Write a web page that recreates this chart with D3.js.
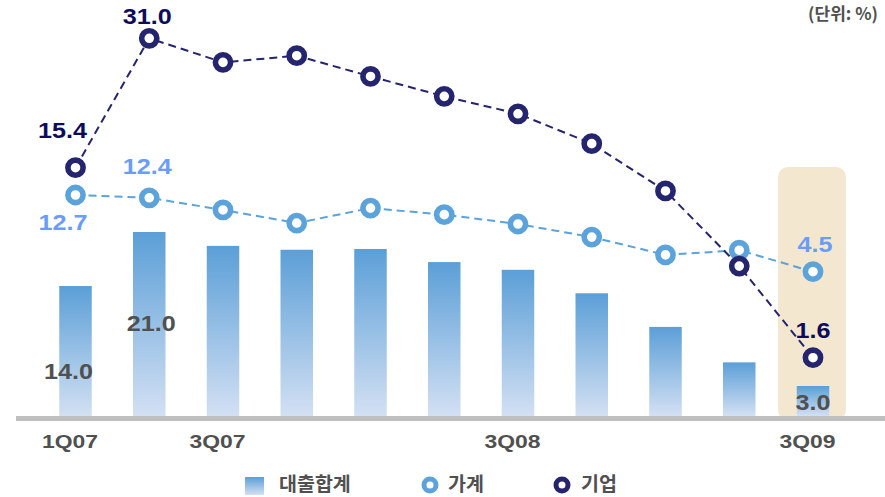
<!DOCTYPE html>
<html>
<head>
<meta charset="utf-8">
<script src="https://cdn.jsdelivr.net/npm/d3@7"></script>
<style>
  body { margin: 0; background: #fff; }
  svg { display: block; }
</style>
</head>
<body>
<div id="chart"></div>
<script>
// quarters on the x axis
var quarters = ['1Q07','2Q07','3Q07','4Q07','1Q08','2Q08','3Q08','4Q08','1Q09','2Q09','3Q09'];
var tickQuarters = ['1Q07','3Q07','3Q08','3Q09'];

// 대출합계 (bars), 가계 and 기업 (lines), %
var totalLoans = [14.0, 21.0, 19.2, 18.7, 18.8, 17.1, 16.1, 13.2, 9.5, 5.6, 3.0];
var household  = [12.7, 12.4, 11.1, 9.7, 11.3, 10.6, 9.6, 8.2, 6.3, 6.8, 4.5];
var corporate  = [15.4, 31.0, 28.1, 28.9, 26.4, 24.0, 21.9, 18.3, 13.1, 5.1, 1.6];

var unitText = '(단위: %)';
var legendNames = ['대출합계', '가계', '기업'];

var W = 885, H = 497;
var base = 416;

var C = {
    barTop: '#5b9fd7', barBottom: '#d3e0f3',
    house: '#5ba3da', houseLabel: '#6b9cf7',
    corp: '#25246e', corpLabel: '#0d0b5a',
    text: '#505050', axis: '#bfbfbf', hl: '#f3e8cf'
};

var svg = d3.select('#chart').append('svg')
    .attr('width', W)
    .attr('height', H);

var defs = svg.append('defs');
var grad = defs.append('linearGradient')
    .attr('id', 'barGrad')
    .attr('x1', 0).attr('y1', 0).attr('x2', 0).attr('y2', 1);
grad.append('stop').attr('offset', '0%').attr('stop-color', C.barTop);
grad.append('stop').attr('offset', '100%').attr('stop-color', C.barBottom);

var x = d3.scalePoint()
    .domain(quarters)
    .range([75.5, 813]);

// the original artwork is not drawn to one linear scale, so the scales are piecewise
var yBar = d3.scaleLinear()
    .domain([0, 3, 14, 21])
    .range([base, 386, 286, 232]);

var yLine = d3.scaleLinear()
    .domain([1.6, 4.5, 12.7, 15.4, 31])
    .range([357.7, 271.7, 195, 167.7, 38.3]);

var barW = 32.5;
var fmt = d3.format('.1f');

// highlight behind the last quarter
var last = quarters[quarters.length - 1];
svg.append('rect')
    .attr('x', x(last) - 35)
    .attr('y', 167)
    .attr('width', 68)
    .attr('height', base - 167 + 4)
    .attr('rx', 10)
    .attr('fill', C.hl);

// bars
svg.selectAll('.bar')
    .data(totalLoans)
    .enter().append('rect')
    .attr('class', 'bar')
    .attr('x', function (d, i) { return x(quarters[i]) - barW / 2; })
    .attr('y', function (d) { return yBar(d); })
    .attr('width', barW)
    .attr('height', function (d) { return base - yBar(d); })
    .attr('fill', 'url(#barGrad)');

// baseline
svg.append('rect')
    .attr('x', 16)
    .attr('y', base)
    .attr('width', W - 16)
    .attr('height', 5)
    .attr('fill', C.axis);

// x axis labels
var xaxis = svg.append('g')
    .attr('transform', 'translate(0,' + base + ')')
    .call(d3.axisBottom(x).tickValues(tickQuarters).tickSize(0));
xaxis.select('.domain').remove();
xaxis.selectAll('text')
    .attr('y', 0)
    .attr('dy', 0)
    .attr('transform', 'translate(-6,32.3) scale(1.24,1)')
    .attr('fill', C.text)
    .style('font-family', '"Liberation Sans", Arial, sans-serif')
    .style('font-weight', 'bold')
    .style('font-size', '18.5px');

function drawLine(values, color) {
    var line = d3.line()
        .x(function (d, i) { return x(quarters[i]); })
        .y(function (d) { return yLine(d); });

    svg.append('path')
        .datum(values)
        .attr('d', line)
        .attr('fill', 'none')
        .attr('stroke', color)
        .attr('stroke-width', 2)
        .attr('stroke-dasharray', '8,5');

    svg.append('g').selectAll('circle')
        .data(values)
        .enter().append('circle')
        .attr('cx', function (d, i) { return x(quarters[i]); })
        .attr('cy', function (d) { return yLine(d); })
        .attr('r', 7.6)
        .attr('fill', '#fff')
        .attr('stroke', color)
        .attr('stroke-width', 5.6);
}

drawLine(household, C.house);
drawLine(corporate, C.corp);

// value labels (offsets from the data point)
function valueLabel(px, py, txt, color) {
    svg.append('text')
        .attr('transform', 'translate(' + px + ',' + py + ') scale(1.17,1)')
        .attr('text-anchor', 'middle')
        .attr('fill', color)
        .style('font-family', '"Liberation Sans", Arial, sans-serif')
        .style('font-weight', 'bold')
        .style('font-size', '21.5px')
        .text(txt);
}

var n = quarters.length - 1;
valueLabel(x(quarters[0]) - 13, yLine(corporate[0]) - 29.4, fmt(corporate[0]), C.corpLabel);
valueLabel(x(quarters[1]) - 2, yLine(corporate[1]) - 14.3, fmt(corporate[1]), C.corpLabel);
valueLabel(x(quarters[n]), yLine(corporate[n]) - 19.4, fmt(corporate[n]), C.corpLabel);

valueLabel(x(quarters[0]) - 12.5, yLine(household[0]) + 35, fmt(household[0]), C.houseLabel);
valueLabel(x(quarters[1]) - 2, yLine(household[1]) - 24.3, fmt(household[1]), C.houseLabel);
valueLabel(x(quarters[n]) + 2, yLine(household[n]) - 19.4, fmt(household[n]), C.houseLabel);

valueLabel(x(quarters[0]) - 7, 379.3, fmt(totalLoans[0]), C.text);
valueLabel(x(quarters[1]) + 2, 331, fmt(totalLoans[1]), C.text);
valueLabel(x(quarters[n]), 410, fmt(totalLoans[n]), C.text);

// unit
svg.append('text')
    .attr('x', 878)
    .attr('y', 20)
    .attr('text-anchor', 'end')
    .attr('fill', C.text)
    .style('font-family', '"Noto Sans CJK KR", sans-serif')
    .style('font-weight', 'bold')
    .style('font-size', '17px')
    .text(unitText);

// legend
var lg = svg.append('g').attr('class', 'legend');
lg.append('rect')
    .attr('x', 245).attr('y', 477)
    .attr('width', 19).attr('height', 18)
    .attr('fill', 'url(#barGrad)');
lg.append('circle').attr('cx', 430).attr('cy', 485).attr('r', 6)
    .attr('fill', '#fff').attr('stroke', C.house).attr('stroke-width', 5);
lg.append('circle').attr('cx', 562).attr('cy', 485).attr('r', 6)
    .attr('fill', '#fff').attr('stroke', C.corp).attr('stroke-width', 5);

var legendX = [279, 448, 581];
lg.selectAll('text')
    .data(legendNames)
    .enter().append('text')
    .attr('x', function (d, i) { return legendX[i]; })
    .attr('y', 491)
    .attr('fill', C.text)
    .style('font-family', '"Noto Sans CJK KR", sans-serif')
    .style('font-weight', 'bold')
    .style('font-size', '19.5px')
    .text(function (d) { return d; });
</script>
</body>
</html>
